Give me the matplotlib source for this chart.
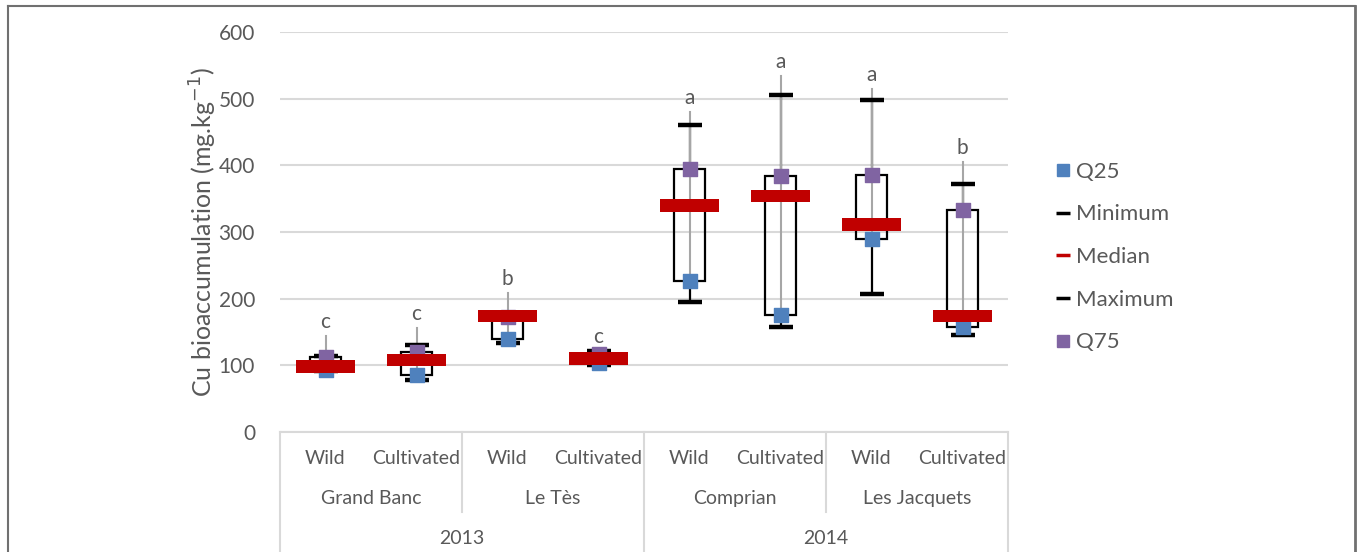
import numpy as np
import matplotlib.pyplot as plt
from matplotlib.lines import Line2D

plt.rcParams['font.family'] = ['Lato', 'DejaVu Sans']

# data (mg/kg)
groups = ['Wild', 'Cultivated'] * 4
sites = ['Grand Banc', 'Le Tès', 'Comprian', 'Les Jacquets']
years = ['2013', '2014']
q25 = [93, 85, 140, 103, 227, 175, 290, 158]
minimum = [91, 78, 134, 100, 195, 157, 207, 145]
median = [98, 108, 174, 110, 340, 354, 311, 174]
maximum = [114, 131, 179, 121, 460, 505, 498, 372]
q75 = [112, 120, 173, 117, 394, 384, 386, 333]
line_top = [144, 156, 209, 122, 480, 534, 515, 405]
letters = ['c', 'c', 'b', 'c', 'a', 'a', 'a', 'b']

blue = '#4f81bd'
purple = '#8064a2'
red = '#c00000'
txt = '#595959'
grid = '#d9d9d9'

fig = plt.figure(figsize=(13.57, 5.52), dpi=100)
ax = fig.add_axes([280/1357, 120/552, 728/1357, 400/552])
x = np.arange(len(groups))

# whiskers (black), box, and high-low line (gray)
for i in x:
    ax.plot([i, i], [minimum[i], q25[i]], color='black', lw=1.6, zorder=2)
    ax.plot([i, i], [q75[i], maximum[i]], color='black', lw=1.6, zorder=2)
    ax.add_patch(plt.Rectangle((i - 0.165, q25[i]), 0.33, q75[i] - q25[i],
                               fill=False, ec='black', lw=1.6, zorder=3))
    ax.plot([i, i], [q25[i], line_top[i]], color='#a6a6a6', lw=1.5, zorder=4)
    ax.text(i, line_top[i] + 6, letters[i], ha='center', va='bottom',
            fontsize=15, color=txt)

ax.scatter(x, minimum, marker='_', s=290, lw=3.2, color='black', zorder=5)
ax.scatter(x, maximum, marker='_', s=290, lw=3.2, color='black', zorder=5)
ax.scatter(x, q25, marker='s', s=92, color=blue, zorder=6)
ax.scatter(x, q75, marker='s', s=92, color=purple, zorder=6)
ax.bar(x, 19, bottom=np.array(median) - 9.5, width=0.65, color=red, zorder=7)

ax.set_xlim(-0.5, 7.5)
ax.set_ylim(0, 600)
ax.set_yticks(range(0, 601, 100))
ax.tick_params(axis='y', length=0, labelsize=15, colors=txt, pad=18)
ax.set_xticks([])
for s in ['top', 'right', 'left']:
    ax.spines[s].set_visible(False)
ax.spines['bottom'].set_color(grid)
ax.spines['bottom'].set_linewidth(1.5)
ax.grid(axis='y', color=grid, lw=1.5, zorder=0)
ax.set_axisbelow(True)
ax.set_ylabel('Cu bioaccumulation (mg.kg$^{-1}$)', fontsize=18, color=txt, labelpad=0)

# multi-level category axis
tr = ax.get_xaxis_transform()
for i in x:
    ax.text(i, -0.067, groups[i], transform=tr, ha='center', va='center',
            fontsize=14, color=txt)
for j, site in enumerate(sites):
    ax.text(2 * j + 0.5, -0.167, site, transform=tr, ha='center', va='center',
            fontsize=14, color=txt)
for j, yr in enumerate(years):
    ax.text(4 * j + 1.5, -0.267, yr, transform=tr, ha='center', va='center',
            fontsize=14, color=txt)
for b in [-0.5, 3.5, 7.5]:
    ax.plot([b, b], [0, -0.31], transform=tr, color=grid, lw=1.5, clip_on=False)
for b in [1.5, 5.5]:
    ax.plot([b, b], [0, -0.2], transform=tr, color=grid, lw=1.5, clip_on=False)

# legend
handles = [
    Line2D([], [], ls='none', marker='s', ms=8, color=blue),
    Line2D([], [], ls='none', marker='_', ms=10, mew=2.5, color='black'),
    Line2D([], [], ls='none', marker='_', ms=10, mew=2.5, color=red),
    Line2D([], [], ls='none', marker='_', ms=10, mew=2.5, color='black'),
    Line2D([], [], ls='none', marker='s', ms=8, color=purple),
]
leg = fig.legend(handles, ['Q25', 'Minimum', 'Median', 'Maximum', 'Q75'],
                 loc='center left', bbox_to_anchor=(1036/1357, 1 - 257/552),
                 frameon=False, fontsize=16, labelspacing=1.02,
                 handlelength=0.6, handletextpad=0.3, labelcolor=txt)

# outer frame
border = '#707070'
fig.add_artist(Line2D([7.5/1357, 7.5/1357], [0, 1 - 6/552], color=border, lw=1.5))
fig.add_artist(Line2D([7.5/1357, 1355/1357], [1 - 6/552, 1 - 6/552], color=border, lw=1.5))
fig.add_artist(Line2D([1355/1357, 1355/1357], [0, 1 - 6/552], color=border, lw=2))

fig.savefig('out.png', dpi=100)
